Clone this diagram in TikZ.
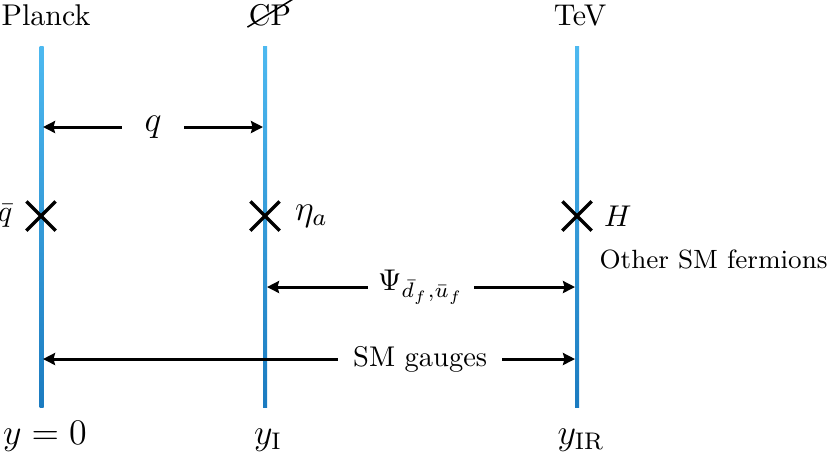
\RequirePackage{fix-cm}
\documentclass[tikz,border=0pt]{standalone}
\usepackage{fontspec}
\usetikzlibrary{arrows.meta,shapes.misc,positioning}
\definecolor{topblue}{HTML}{4DB9F0}
\definecolor{botblue}{HTML}{1B7BC0}
\tikzset{
  brane/.style={top color=topblue,bottom color=botblue,draw=none},
  arr/.style={{Stealth[length=4pt,width=4pt,inset=0.5pt]}-{Stealth[length=4pt,width=4pt,inset=0.5pt]},line width=1pt},
  lab/.style={fill=white,inner ysep=1pt},
  xmark/.style={cross out,draw=black,line width=1.15pt,minimum size=8.6pt,inner sep=0pt},
  toplab/.style={anchor=base,inner sep=0pt},
  botlab/.style={anchor=base,inner sep=0pt,font=\large},
  sidelab/.style={inner sep=0pt}
}
\begin{document}
\begin{tikzpicture}[x=0.3333pt,y=-0.3333pt]
\useasboundingbox (0,0) rectangle (830,451);
% branes
\shade[brane] (39.5,46) rectangle (43.5,407);
\shade[brane] (263,46) rectangle (267,407);
\shade[brane] (575,46) rectangle (579,407);
% top labels
\node[toplab] (planck) at (46,25) {Planck};
\node[toplab] (cp) at (270,25) {CP};
\draw[line width=0.5pt] ([xshift=-0.3pt,yshift=-0.7pt]cp.base west) -- ([xshift=0.3pt,yshift=1.3pt]cp.north east);
\node[toplab] (tev) at (580,25) {TeV};
% bottom labels
\node[botlab] (y0) at (45,444) {$y=0$};
\node[botlab] (yI) at (268,444) {$y_{\mathrm{I}}$};
\node[botlab] (yIR) at (581,444) {$y_{\mathrm{IR}}$};
% coordinates for arrows
\coordinate (qL) at (43,127);
\coordinate (qR) at (263,127);
\coordinate (psiL) at (267,287);
\coordinate (psiR) at (575,287);
\coordinate (gL) at (43,359);
\coordinate (gR) at (575,359);
% arrows
\draw[arr] (qL) -- node[lab,inner xsep=7.5pt,font=\large] (qlab) {$q$} (qR);
\draw[arr] (psiL) -- node[lab,inner xsep=3.3pt] (psilab) {$\Psi_{\bar d_f,\bar u_f}$} (psiR);
\draw[arr] (gL) -- node[lab,pos=0.709,inner xsep=5pt,font=\fontsize{9.5}{11}\selectfont] (glab) {SM gauges} (gR);
% crosses
\node[xmark] (x1) at (41,216) {};
\node[xmark] (x2) at (265,216) {};
\node[xmark] (x3) at (577,216) {};
\node[sidelab,left=4.5pt of x1] (qbar) {$\bar q$};
\node[sidelab,right=5pt of x2,font=\large] (eta) {$\eta_a$};
\node[sidelab,right=4pt of x3] (hlab) {$H$};
\node[anchor=base west,inner sep=0pt,font=\fontsize{8.8}{11}\selectfont] (other) at (599,268) {Other SM fermions};
\end{tikzpicture}
\end{document}
